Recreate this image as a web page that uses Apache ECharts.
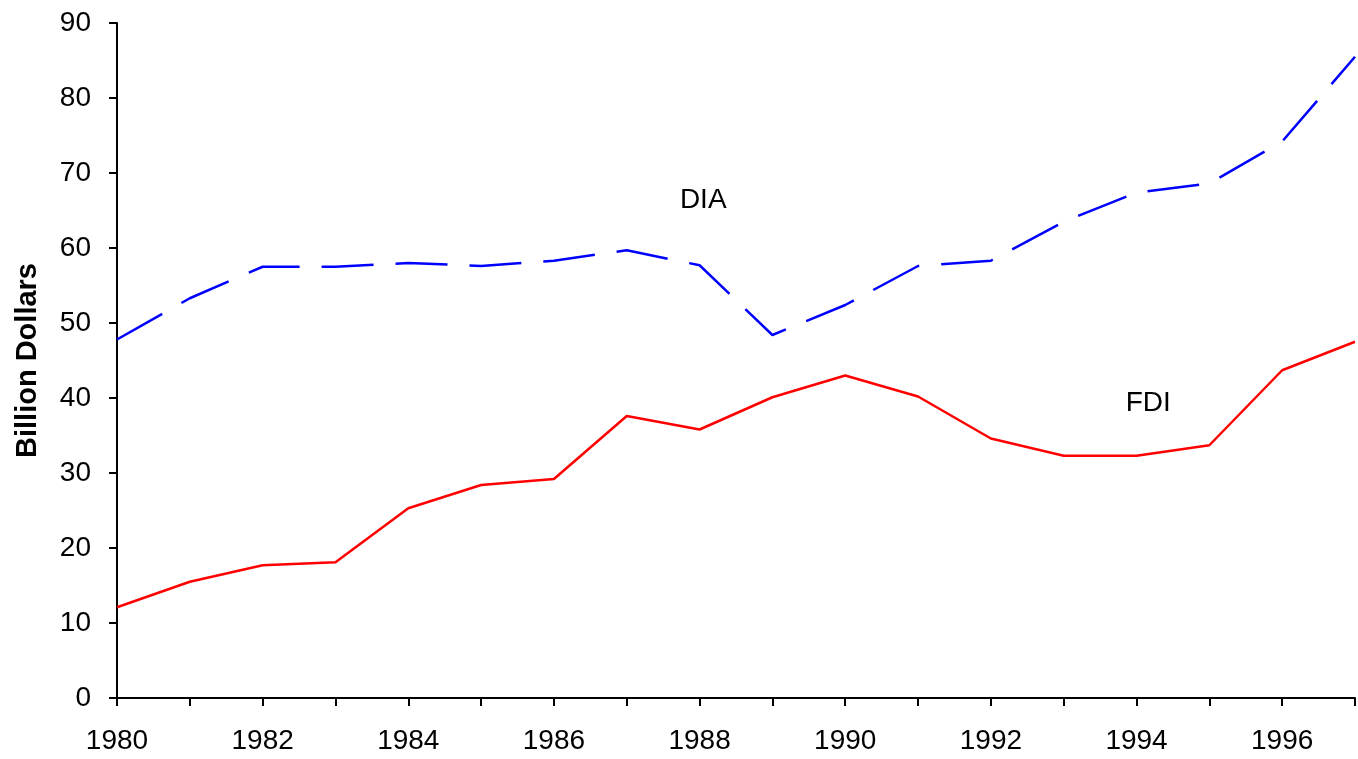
<!DOCTYPE html>
<html>
<head>
<meta charset="utf-8">
<script src="https://cdn.jsdelivr.net/npm/echarts@6/dist/echarts.min.js"></script>
<style>
html,body{margin:0;padding:0;background:#fff;}
#chart{width:1358px;height:759px;}
</style>
</head>
<body>
<div id="chart"></div>
<script>
var years = [1980,1981,1982,1983,1984,1985,1986,1987,1988,1989,1990,1991,1992,1993,1994,1995,1996,1997];
var dia = [47.8,53.3,57.5,57.5,58.0,57.6,58.3,59.7,57.7,48.4,52.4,57.6,58.3,63.5,67.4,68.6,74.2,85.5];
var fdi = [12.1,15.5,17.7,18.1,25.3,28.4,29.2,37.6,35.8,40.1,43.0,40.2,34.6,32.3,32.3,33.7,43.7,47.5];

function pairs(vals){
	return years.map(function(y,i){ return [y, vals[i]]; });
}

var chart = echarts.init(document.getElementById('chart'));
var font = 'Liberation Sans, Arial, sans-serif';

function tag(text, coord){
	return {
		symbol: 'circle',
		symbolSize: 1,
		itemStyle: { color: 'rgba(0,0,0,0)' },
		label: { show: true, position: 'inside', formatter: text, color: '#000', fontFamily: font, fontSize: 28 },
		data: [{ coord: coord }]
	};
}

var option = {
	animation: false,
	grid: { left: 117, right: 3, top: 23, bottom: 61, outerBoundsMode: 'none' },
	xAxis: {
		type: 'value',
		min: 1980, max: 1997, interval: 1,
		splitLine: { show: false },
		axisLine: { lineStyle: { color: '#000', width: 2 } },
		axisTick: { length: 8, lineStyle: { color: '#000', width: 2 } },
		axisLabel: {
			color: '#000', fontFamily: font, fontSize: 28, margin: 29,
			formatter: function(v){ return (v % 2 === 0 && v < 1997) ? String(v) : ''; }
		}
	},
	yAxis: {
		type: 'value',
		min: 0, max: 90, interval: 10,
		name: 'Billion Dollars',
		nameLocation: 'middle',
		nameGap: 75,
		nameTextStyle: { color: '#000', fontFamily: font, fontSize: 29, fontWeight: 'bold' },
		splitLine: { show: false },
		axisLine: { show: true, lineStyle: { color: '#000', width: 2 } },
		axisTick: { show: true, length: 8, lineStyle: { color: '#000', width: 2 } },
		axisLabel: { color: '#000', fontFamily: font, fontSize: 28, margin: 26 }
	},
	series: [
		{
			name: 'DIA',
			type: 'line',
			data: pairs(dia),
			symbol: 'none',
			lineStyle: { color: '#0000ff', width: 2.5, type: [52, 22] },
			markPoint: tag('DIA', [1988.05, 66.4])
		},
		{
			name: 'FDI',
			type: 'line',
			data: pairs(fdi),
			symbol: 'none',
			lineStyle: { color: '#ff0000', width: 2.5 },
			markPoint: tag('FDI', [1994.16, 39.3])
		}
	]
};
chart.setOption(option);
</script>
</body>
</html>
